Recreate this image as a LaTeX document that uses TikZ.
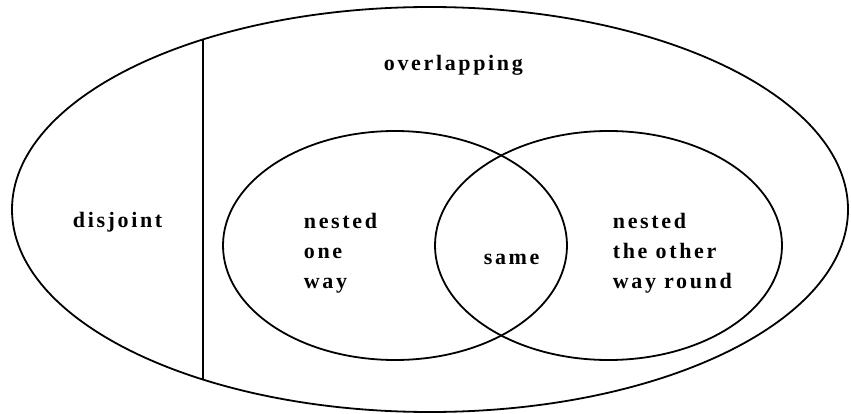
\documentclass[tikz,border=0pt]{standalone}
\usepackage{fontspec}
\usepackage{tikz}
\newfontfamily\lblfont[LetterSpace=12]{Liberation Serif}

\begin{document}
\begin{tikzpicture}[x=1pt, y=-1pt, line width=1.8pt,
    lbl/.style={inner sep=0pt, anchor=base west, align=left,
        font=\lblfont\bfseries\fontsize{22}{30}\selectfont}]
    \useasboundingbox (0,0) rectangle (851,414);

    % Whole range of cases
    \draw (430,209.5) ellipse [x radius=418pt, y radius=202.5pt];
    \coordinate (divtop) at (203,39.6);
    \coordinate (divbot) at (203,379.4);
    \draw[line width=1.6pt] (divtop) -- (divbot);

    % Two overlapping sets
    \draw (395,245.5) ellipse [x radius=172pt, y radius=114.5pt];
    \draw (608.5,245.5) ellipse [x radius=173.5pt, y radius=114.5pt];

    % Labels (base of a multi-line node is its last line)
    \node[lbl] (overlap) at (383,71) {overlapping};
    \node[lbl] (disjoint) at (72,228) {disjoint};
    \node[lbl] (nestone) at (303,288) {nested\\one\\way};
    \node[lbl] (same) at (483,264) {same};
    \node[lbl] (nestother) at (612,288) {nested\\the other\\way round};
\end{tikzpicture}
\end{document}
